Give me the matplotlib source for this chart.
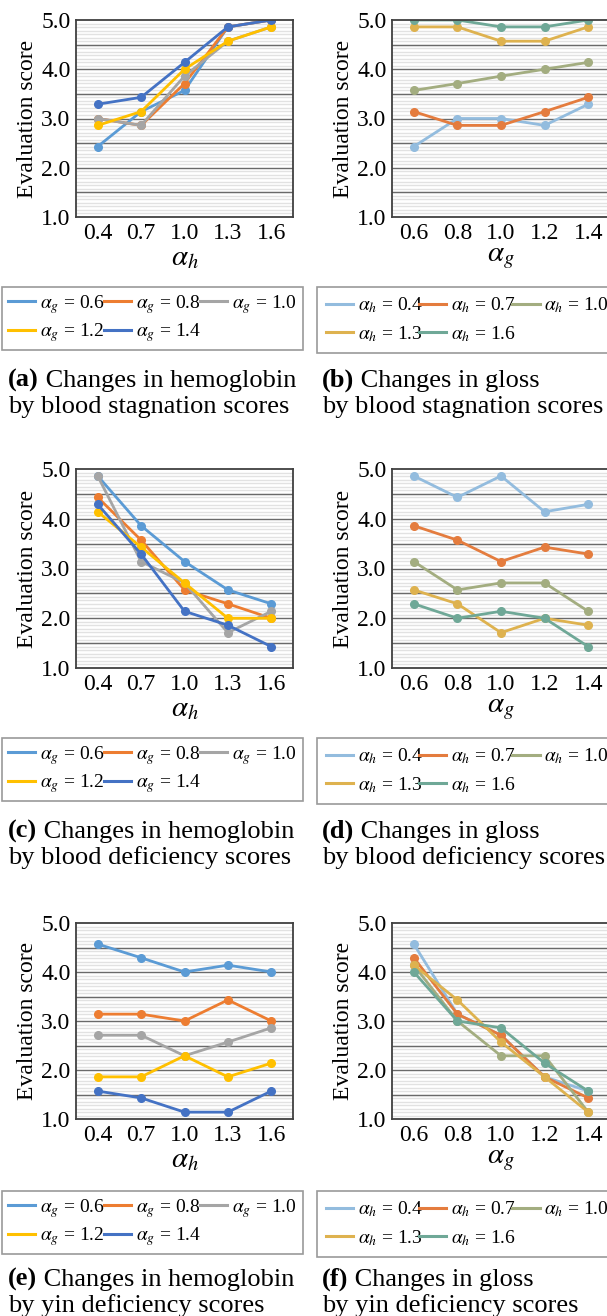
import numpy as np
import matplotlib
matplotlib.use("Agg")
from matplotlib import pyplot as plt
from matplotlib.lines import Line2D

plt.rcParams['font.family'] = ['Liberation Serif', 'DejaVu Serif']
plt.rcParams['mathtext.fontset'] = 'stix'

# x categories
alpha_h = ['0.4', '0.7', '1.0', '1.3', '1.6']
alpha_g = ['0.6', '0.8', '1.0', '1.2', '1.4']

# hemoglobin panels: one series per alpha_g
hb_labels = [r'$\alpha_g$ = 0.6', r'$\alpha_g$ = 0.8', r'$\alpha_g$ = 1.0',
             r'$\alpha_g$ = 1.2', r'$\alpha_g$ = 1.4']
hb_colors = ['#5B9BD5', '#ED7D31', '#A5A5A5', '#FFC000', '#4472C4']

# gloss panels: one series per alpha_h
gl_labels = [r'$\alpha_h$ = 0.4', r'$\alpha_h$ = 0.7', r'$\alpha_h$ = 1.0',
             r'$\alpha_h$ = 1.3', r'$\alpha_h$ = 1.6']
gl_colors = ['#93BCDE', '#E47C3E', '#A3AD80', '#DEB24F', '#6FA897']

# (a) hemoglobin, blood stagnation
a_vals = [
    [2.43, 3.14, 3.57, 4.86, 5.00],
    [3.00, 2.86, 3.71, 4.86, 5.00],
    [3.00, 2.86, 3.86, 4.57, 4.86],
    [2.86, 3.14, 4.00, 4.57, 4.86],
    [3.29, 3.43, 4.14, 4.86, 5.00],
]
# (b) gloss, blood stagnation
b_vals = [
    [2.43, 3.00, 3.00, 2.86, 3.29],
    [3.14, 2.86, 2.86, 3.14, 3.43],
    [3.57, 3.71, 3.86, 4.00, 4.14],
    [4.86, 4.86, 4.57, 4.57, 4.86],
    [5.00, 5.00, 4.86, 4.86, 5.00],
]
# (c) hemoglobin, blood deficiency
c_vals = [
    [4.86, 3.86, 3.14, 2.57, 2.29],
    [4.43, 3.57, 2.57, 2.29, 2.00],
    [4.86, 3.14, 2.71, 1.71, 2.14],
    [4.14, 3.43, 2.71, 2.00, 2.00],
    [4.29, 3.29, 2.14, 1.86, 1.43],
]
# (d) gloss, blood deficiency
d_vals = [
    [4.86, 4.43, 4.86, 4.14, 4.29],
    [3.86, 3.57, 3.14, 3.43, 3.29],
    [3.14, 2.57, 2.71, 2.71, 2.14],
    [2.57, 2.29, 1.71, 2.00, 1.86],
    [2.29, 2.00, 2.14, 2.00, 1.43],
]
# (e) hemoglobin, yin deficiency
e_vals = [
    [4.57, 4.29, 4.00, 4.14, 4.00],
    [3.14, 3.14, 3.00, 3.43, 3.00],
    [2.71, 2.71, 2.29, 2.57, 2.86],
    [1.86, 1.86, 2.29, 1.86, 2.14],
    [1.57, 1.43, 1.14, 1.14, 1.57],
]
# (f) gloss, yin deficiency
f_vals = [
    [4.57, 3.14, 2.71, 1.86, 1.57],
    [4.29, 3.14, 2.71, 1.86, 1.43],
    [4.14, 3.00, 2.29, 2.29, 1.14],
    [4.14, 3.43, 2.57, 1.86, 1.14],
    [4.00, 3.00, 2.86, 2.14, 1.57],
]

captions = [
    ('(a)', ' Changes in hemoglobin', 'by blood stagnation scores'),
    ('(b)', ' Changes in gloss', 'by blood stagnation scores'),
    ('(c)', ' Changes in hemoglobin', 'by blood deficiency scores'),
    ('(d)', ' Changes in gloss', 'by blood deficiency scores'),
    ('(e)', ' Changes in hemoglobin', 'by yin deficiency scores'),
    ('(f)', ' Changes in gloss', 'by yin deficiency scores'),
]

W, H = 607, 1316
fig = plt.figure(figsize=(W / 100, H / 100), dpi=100)


def rect(l, t, r, b):
    return [l / W, 1 - b / H, (r - l) / W, (b - t) / H]


row_top = [20, 469, 923]
row_bot = [217, 668, 1119]
col_lr = [(76, 293), (392, 610)]
panels = [a_vals, b_vals, c_vals, d_vals, e_vals, f_vals]
# legend fills column by column; this order reads row by row
leg_order = [0, 3, 1, 4, 2]

for i, vals in enumerate(panels):
    row, col = divmod(i, 2)
    l, r = col_lr[col]
    ax = fig.add_axes(rect(l, row_top[row], r, row_bot[row]))
    if col == 0:
        cats, labels, colors, xl = alpha_h, hb_labels, hb_colors, r'$\alpha_h$'
    else:
        cats, labels, colors, xl = alpha_g, gl_labels, gl_colors, r'$\alpha_g$'
    x = np.arange(len(cats))
    for ys, lab, c in zip(vals, labels, colors):
        ax.plot(x, ys, color=c, lw=2.0, marker='o', ms=5.5)
    ax.set_xlim(-0.5, len(cats) - 0.5)
    ax.set_ylim(1.0, 5.0)
    ax.set_xticks(x)
    ax.set_xticklabels(cats)
    ax.set_yticks([1.0, 2.0, 3.0, 4.0, 5.0])
    ax.set_yticklabels(['1.0', '2.0', '3.0', '4.0', '5.0'])
    ax.set_yticks(np.arange(1.0, 5.0, 0.5 / 7), minor=True)
    ax.tick_params(which='both', length=0, labelsize=17, pad=4)
    # grid: light minor lines, darker lines every 0.5
    ax.grid(which='minor', axis='y', color='#e2e2e2', lw=1.0)
    for g in np.arange(1.5, 5.0, 0.5):
        ax.axhline(g, color='#6a6a6a', lw=1.0, zorder=1.5)
    ax.set_axisbelow(True)
    for s in ax.spines.values():
        s.set_color('#404040')
        s.set_linewidth(1.3)
    ax.set_xlabel(xl, fontsize=21, labelpad=1)
    ax.set_ylabel('Evaluation score', fontsize=17, labelpad=2)

    # legend box under the axes, lines only
    handles = [Line2D([], [], color=c, lw=2.2) for c in colors]
    lt = row_bot[row] + 70
    if row == 2:
        lt += 2
    lx = 2 if col == 0 else 317
    ax.legend([handles[k] for k in leg_order], [labels[k] for k in leg_order],
              loc='upper left', bbox_to_anchor=(lx / W, 1 - (lt + 65) / H, 301 / W, 65 / H),
              bbox_transform=fig.transFigure, mode='expand', ncol=3, fontsize=14,
              frameon=True, fancybox=False, edgecolor='#808080', handlelength=1.4,
              handletextpad=0.25, columnspacing=0.4,
              borderpad=0.3 if col == 0 else 0.45,
              labelspacing=0.3 if col == 0 else 0.45,
              borderaxespad=0)
    ax.get_legend().get_frame().set_linewidth(1.2)

    # caption
    bold, rest, line2 = captions[i]
    cx = 8 if col == 0 else 322
    cy = row_bot[row] + 170
    if row == 2:
        cy -= 3
    t1 = fig.text(cx / W, 1 - cy / H, bold, fontsize=19, weight='bold', va='baseline')
    ax.annotate(rest, xy=(1, 0), xycoords=t1, xytext=(0, 0), textcoords='offset points',
                fontsize=19, va='bottom', ha='left', annotation_clip=False)
    fig.text(cx / W, 1 - (cy + 26) / H, line2, fontsize=19, va='baseline')

fig.savefig('out.png', dpi=100)
